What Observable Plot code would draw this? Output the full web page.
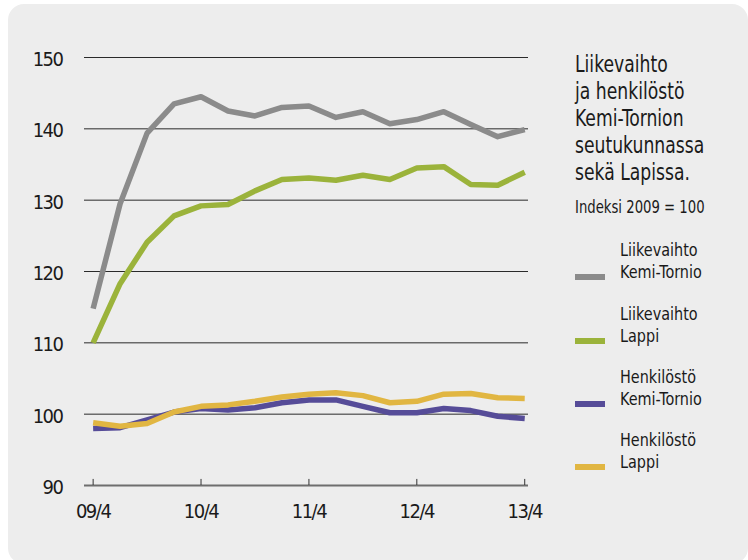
<!DOCTYPE html>
<html>
<head>
<meta charset="utf-8">
<script src="https://cdn.jsdelivr.net/npm/d3@7"></script>
<script src="https://cdn.jsdelivr.net/npm/@observablehq/plot@0.6"></script>
<style>
  html, body { margin: 0; padding: 0; background: #ffffff; }
  body { width: 748px; height: 560px; position: relative; overflow: hidden;
         font-family: "Liberation Sans Narrow", "Arial Narrow", "DejaVu Sans Condensed", sans-serif; color: #1a1a1a; }
  #card { position: absolute; left: 8px; top: 4px; width: 740px; height: 560px; background: #ededed; border-radius: 16px; }
  #chart { position: absolute; left: 0; top: 0; }
  #chart svg text { letter-spacing: -1.5px; }
  #title { position: absolute; left: 575px; top: 51px; font-size: 22.5px; line-height: 27px; white-space: nowrap;
           transform: scaleX(0.85); transform-origin: 0 0; }
  #subtitle { position: absolute; left: 575px; top: 196px; font-size: 17.5px; line-height: 22px; white-space: nowrap;
              transform: scaleX(0.84); transform-origin: 0 0; }
  .leg { position: absolute; left: 575px; }
  .leg .sw { position: absolute; left: 0; width: 30px; height: 6px; }
  .leg .tx { position: absolute; left: 45px; font-size: 18px; line-height: 22px; white-space: nowrap;
             transform: scaleX(0.89); transform-origin: 0 0; }
</style>
</head>
<body>
<div id="card"></div>
<div id="chart"></div>
<div id="title">Liikevaihto<br>ja henkilöstö<br>Kemi-Tornion<br>seutukunnassa<br>sekä Lapissa.</div>
<div id="subtitle">Indeksi 2009 = 100</div>
<div id="legend"></div>
<script>
// Quarterly index values, 09/4 ... 13/4 (17 quarters)
const quarters = ["09/4","10/1","10/2","10/3","10/4","11/1","11/2","11/3","11/4","12/1","12/2","12/3","12/4","13/1","13/2","13/3","13/4"];
const tickLabels = ["09/4","10/4","11/4","12/4","13/4"];
const yTicks = [90,100,110,120,130,140,150];

const liikevaihtoKemiTornio = [114.8,129.5,139.4,143.5,144.5,142.5,141.8,143.0,143.2,141.6,142.4,140.7,141.3,142.4,140.6,138.9,139.9];
const liikevaihtoLappi      = [110.0,118.3,124.1,127.8,129.2,129.4,131.3,132.9,133.1,132.8,133.5,132.9,134.5,134.7,132.2,132.1,133.9];
const henkilostoKemiTornio  = [98.0,98.1,99.2,100.3,100.8,100.6,100.9,101.6,102.0,102.0,101.1,100.2,100.2,100.8,100.5,99.7,99.4];
const henkilostoLappi       = [98.8,98.3,98.7,100.3,101.1,101.3,101.8,102.4,102.8,103.0,102.6,101.6,101.8,102.8,102.9,102.3,102.2];

const series = [
  {name: "Liikevaihto\nKemi-Tornio", values: liikevaihtoKemiTornio, color: "#8b8b8b"},
  {name: "Liikevaihto\nLappi", values: liikevaihtoLappi, color: "#9bb33b"},
  {name: "Henkilöstö\nKemi-Tornio", values: henkilostoKemiTornio, color: "#564c98"},
  {name: "Henkilöstö\nLappi", values: henkilostoLappi, color: "#e1b642"}
];

const rows = series.flatMap(s => s.values.map((v, i) => ({i, v, name: s.name, q: quarters[i]})));
const tickIdx = tickLabels.map(l => quarters.indexOf(l));

const font = '"Liberation Sans Narrow", "Arial Narrow", "DejaVu Sans Condensed", sans-serif';

const plot = Plot.plot({
  width: 560,
  height: 540,
  marginLeft: 84,
  marginRight: 32,
  marginTop: 57,
  marginBottom: 55,
  style: {background: "transparent", fontFamily: font, color: "#1a1a1a"},
  x: {domain: [-0.32, 16.14]},
  y: {domain: [90, 150]},
  color: {domain: series.map(s => s.name), range: series.map(s => s.color)},
  marks: [
    Plot.ruleY(yTicks.filter(d => d > 90), {stroke: "#2a2a2a", strokeWidth: 1}),
    Plot.ruleY([90], {stroke: "#6e6e6e", strokeWidth: 2}),
    Plot.ruleX(tickIdx, {y1: 90, y2: 90.85, stroke: "#333", strokeWidth: 1}),
    Plot.axisY(yTicks, {tickSize: 0, tickPadding: 22, fontSize: 20, dy: 2, label: null}),
    Plot.axisX(tickIdx, {tickSize: 0, tickPadding: 18, fontSize: 20, tickFormat: i => quarters[i], label: null}),
    Plot.lineY(rows, {x: "i", y: "v", z: "name", stroke: "name", strokeWidth: 5.5, strokeLinecap: "butt", strokeLinejoin: "round"})
  ]
});
document.getElementById("chart").appendChild(plot);

// Legend
const legend = document.getElementById("legend");
const swatchY = [277, 341, 404, 467];
series.forEach((s, k) => {
  const item = document.createElement("div");
  item.className = "leg";
  item.style.top = swatchY[k] + "px";
  const sw = document.createElement("div");
  sw.className = "sw";
  sw.style.top = "-3px";
  sw.style.background = s.color;
  const tx = document.createElement("div");
  tx.className = "tx";
  tx.style.top = "-38px";
  tx.innerHTML = s.name.split("\n").join("<br>");
  item.appendChild(sw);
  item.appendChild(tx);
  legend.appendChild(item);
});
</script>
</body>
</html>
